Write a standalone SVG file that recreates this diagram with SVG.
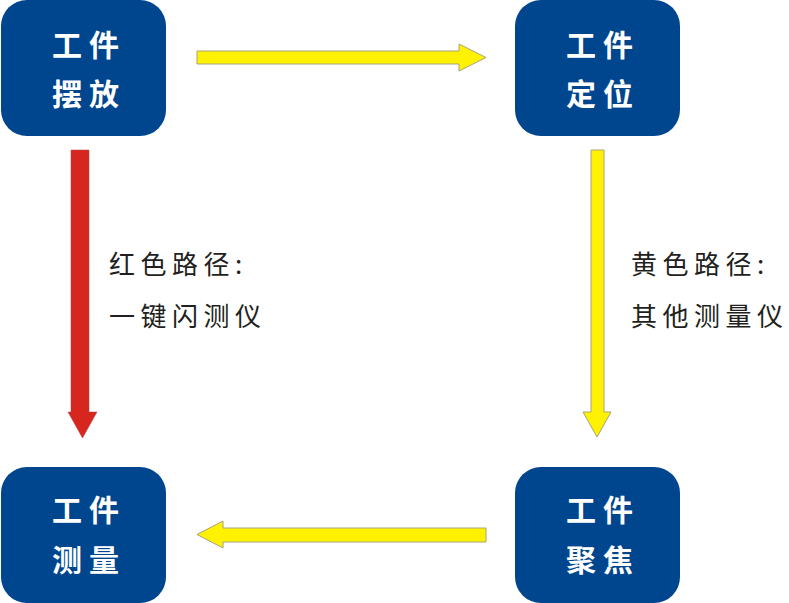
<svg xmlns="http://www.w3.org/2000/svg" width="789" height="603" viewBox="0 0 789 603">
<style>
.box{fill:#00468E;}
.bt{font-family:"Noto Sans CJK SC","Noto Sans",sans-serif;font-weight:bold;font-size:30px;fill:#ffffff;letter-spacing:7px;}
.lt{font-family:"Noto Sans CJK SC","Noto Sans",sans-serif;font-size:26px;fill:#231f20;letter-spacing:5.5px;}
.ya{fill:#FFF200;stroke:#A8A27A;stroke-width:1;}
.ra{fill:#D7261E;stroke:#B04040;stroke-width:0.5;}
</style>
<rect width="789" height="603" fill="#ffffff"/>
<g id="node-placement">
<rect class="box" x="1" y="0" width="165" height="136" rx="26"/>
<text class="bt" x="52" y="56">工件</text>
<text class="bt" x="52" y="105">摆放</text>
</g>
<g id="node-positioning">
<rect class="box" x="515" y="0" width="165" height="136" rx="26"/>
<text class="bt" x="566" y="56">工件</text>
<text class="bt" x="566" y="105">定位</text>
</g>
<g id="node-measure">
<rect class="box" x="1" y="467" width="165" height="136" rx="26"/>
<text class="bt" x="52" y="521">工件</text>
<text class="bt" x="52" y="571">测量</text>
</g>
<g id="node-focus">
<rect class="box" x="515" y="467" width="165" height="136" rx="26"/>
<text class="bt" x="566" y="521">工件</text>
<text class="bt" x="566" y="571">聚焦</text>
</g>
<g id="connectors">
<polygon class="ya" points="197,51 459,51 459,44 486,57.5 459,71 459,64 197,64"/>
<polygon class="ya" points="486,528 223,528 223,521 197,534.5 223,548 223,542 486,542"/>
<polygon class="ra" points="71,150 89,150 89,412 97,412 82.5,438 68,412 71,412"/>
<polygon class="ya" points="591,150 604,150 604,412 611,412 597,437 583,412 591,412"/>
</g>
<g id="labels">
<text class="lt" x="109" y="274">红色路径:</text>
<text class="lt" x="109" y="326">一键闪测仪</text>
<text class="lt" x="631" y="274">黄色路径:</text>
<text class="lt" x="631" y="326">其他测量仪</text>
</g>
</svg>
